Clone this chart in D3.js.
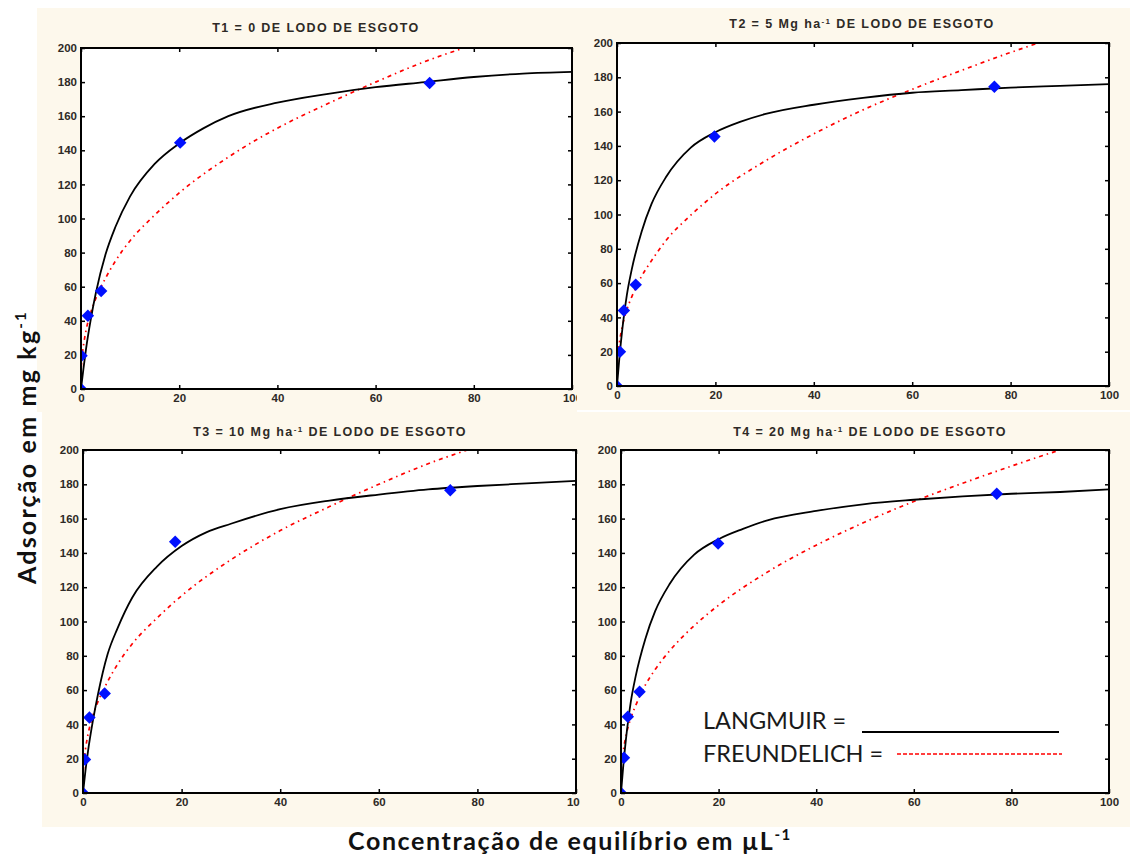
<!DOCTYPE html>
<html>
<head>
<meta charset="utf-8">
<script src="https://cdn.jsdelivr.net/npm/d3@7"></script>
<style>
  body { margin: 0; background: #fff; }
  .tick text { font-family: "Liberation Sans", Arial, sans-serif; font-weight: bold; font-size: 11.5px; fill: #2e2a26; }
  .tick line { stroke: #000; stroke-width: 1.5; }
  .title { font-family: "Liberation Sans", Arial, sans-serif; font-weight: bold; font-size: 12.5px; fill: #2e2a26; letter-spacing: 1.4px; }
</style>
</head>
<body>
<svg id="chart" width="1135" height="857"></svg>
<script>
// ticks
const xTicks = [0, 20, 40, 60, 80, 100];
const yTicks = [0, 20, 40, 60, 80, 100, 120, 140, 160, 180, 200];

const titles = ["T1 = 0 DE LODO DE ESGOTO", "T2 = 5 Mg ha", "T3 = 10 Mg ha", "T4 = 20 Mg ha"];

// observed points (concentration, adsorption)
const obsC1 = [0, 0.1, 1.4, 4.1, 20.2, 71];
const obsQ1 = [0, 19.5, 43, 57.5, 144.5, 179.5];
const obsC2 = [0, 0.6, 1.4, 3.8, 19.8, 76.7];
const obsQ2 = [0, 20, 44, 59, 145.5, 174.5];
const obsC3 = [0, 0.4, 1.3, 4.4, 18.7, 74.5];
const obsQ3 = [0, 19.5, 44, 58, 146.5, 176.5];
const obsC4 = [0, 0.6, 1.4, 3.8, 19.9, 77];
const obsQ4 = [0, 20.5, 44.5, 59, 145.5, 174.5];

// fitted curves
const langC = [0, 0.5, 1, 2, 3, 5, 7, 10, 15, 20, 25, 30, 40, 50, 60, 70, 80, 90, 100];
const langQ1 = [0, 12, 23, 41, 56, 79, 95, 113, 132, 144, 153, 160, 168, 173, 177, 180, 183, 185, 186];
const langQ2 = [0, 17, 31, 53, 68, 90, 106, 122, 139, 148, 154, 158.5, 164, 168, 171, 172.5, 174, 175, 176];
const langQ3 = [0, 13, 24, 42, 57, 81, 96, 114, 132, 144, 152, 157, 165.5, 170.5, 174, 177, 179, 180.5, 182];
const langQ4 = [0, 17, 31, 53, 68, 90, 106, 122, 139, 148, 154, 159, 164.5, 168.5, 171, 173, 174.5, 175.5, 177];

const freC = [0.05, 0.3, 0.5, 1, 2, 3, 5, 7, 10, 15, 20, 30, 40, 50, 60, 70, 80, 90, 100];
const freQ1 = [13, 21, 25.5, 34, 45, 53, 65, 75, 87, 102, 115, 136, 153, 167, 180, 192, 202, 212, 221];
const freQ2 = [13, 21, 25.5, 33.7, 44.5, 52, 64, 73, 85, 99.6, 112, 131, 147, 161, 173, 184, 194.5, 204, 212.6];
const freQ3 = [13, 21, 25.5, 34, 45, 53, 65, 75, 87, 102, 115, 136, 153, 167, 180, 192, 202, 212, 221];
const freQ4 = [13, 20.5, 25, 33, 43.6, 51, 63, 72, 83, 97.6, 109.5, 128.8, 144.5, 158, 170, 180.6, 190.6, 200, 208];

const panels = [
    {bg: [37, 8, 577, 412], plot: [81, 48, 572, 389], title: [316, 32], obsC: obsC1, obsQ: obsQ1, lang: langQ1, fre: freQ1},
    {bg: [577, 8, 1130, 410], plot: [617, 43, 1109, 386], title: [862, 28], obsC: obsC2, obsQ: obsQ2, lang: langQ2, fre: freQ2},
    {bg: [42, 412, 580, 827], plot: [83, 450, 576, 793], title: [330, 436], obsC: obsC3, obsQ: obsQ3, lang: langQ3, fre: freQ3},
    {bg: [580, 412, 1130, 827], plot: [621, 450, 1109, 793], title: [870, 436], obsC: obsC4, obsQ: obsQ4, lang: langQ4, fre: freQ4}
];

const svg = d3.select("#chart");
const defs = svg.append("defs");

panels.forEach(function(p, i) {
    let bx0 = p.bg[0], by0 = p.bg[1], bx1 = p.bg[2], by1 = p.bg[3];
    let px0 = p.plot[0], py0 = p.plot[1], px1 = p.plot[2], py1 = p.plot[3];

    defs.append("clipPath").attr("id", "bgclip" + i)
        .append("rect").attr("x", bx0).attr("y", by0).attr("width", bx1 - bx0).attr("height", by1 - by0);
    defs.append("clipPath").attr("id", "plotclip" + i)
        .append("rect").attr("x", px0).attr("y", py0).attr("width", px1 - px0).attr("height", py1 - py0);

    let g = svg.append("g").attr("clip-path", "url(#bgclip" + i + ")");

    g.append("rect")
        .attr("x", bx0).attr("y", by0)
        .attr("width", bx1 - bx0).attr("height", by1 - by0)
        .attr("fill", "#fdf8ec");

    g.append("rect")
        .attr("x", px0).attr("y", py0)
        .attr("width", px1 - px0).attr("height", py1 - py0)
        .attr("fill", "#fff");

    let x = d3.scaleLinear().domain([0, 100]).range([px0, px1]);
    let y = d3.scaleLinear().domain([0, 200]).range([py1, py0]);

    g.append("g").attr("transform", "translate(0," + py1 + ")")
        .call(d3.axisBottom(x).tickValues(xTicks).tickSize(-4).tickPadding(5))
        .call(function(a) { a.select(".domain").remove(); });
    g.append("g").attr("transform", "translate(0," + py0 + ")")
        .call(d3.axisTop(x).tickValues(xTicks).tickSize(-4).tickFormat(""))
        .call(function(a) { a.select(".domain").remove(); });
    g.append("g").attr("transform", "translate(" + px0 + ",0)")
        .call(d3.axisLeft(y).tickValues(yTicks).tickSize(-4).tickPadding(4))
        .call(function(a) { a.select(".domain").remove(); });
    g.append("g").attr("transform", "translate(" + px1 + ",0)")
        .call(d3.axisRight(y).tickValues(yTicks).tickSize(-4).tickFormat(""))
        .call(function(a) { a.select(".domain").remove(); });

    // curves
    let inner = g.append("g").attr("clip-path", "url(#plotclip" + i + ")");

    let langLine = d3.line()
        .x(function(d, k) { return x(langC[k]); })
        .y(function(d) { return y(d); })
        .curve(d3.curveMonotoneX);
    let freLine = d3.line()
        .x(function(d, k) { return x(freC[k]); })
        .y(function(d) { return y(d); })
        .curve(d3.curveMonotoneX);

    inner.append("path").datum(p.fre)
        .attr("d", freLine)
        .attr("fill", "none")
        .attr("stroke", "#ff0000")
        .attr("stroke-width", 1.7)
        .attr("stroke-dasharray", "4,4,1.5,4");

    inner.append("path").datum(p.lang)
        .attr("d", langLine)
        .attr("fill", "none")
        .attr("stroke", "#000")
        .attr("stroke-width", 1.8);

    inner.selectAll(".pt").data(p.obsC).enter()
        .append("path")
        .attr("class", "pt")
        .attr("d", d3.symbol().type(d3.symbolSquare).size(78))
        .attr("transform", function(d, k) {
            return "translate(" + x(d) + "," + y(p.obsQ[k]) + ") rotate(45)";
        })
        .attr("fill", "#0010ff");

    g.append("rect")
        .attr("x", px0).attr("y", py0)
        .attr("width", px1 - px0).attr("height", py1 - py0)
        .attr("fill", "none")
        .attr("stroke", "#000")
        .attr("stroke-width", 2);

    // title
    let t = g.append("text").attr("class", "title")
        .attr("x", p.title[0]).attr("y", p.title[1])
        .attr("text-anchor", "middle");
    if (i === 0) {
        t.text(titles[i]);
    } else {
        t.append("tspan").text(titles[i]);
        t.append("tspan").attr("font-size", "8px").attr("dy", -4).text("-1");
        t.append("tspan").attr("dy", 4).text(" DE LODO DE ESGOTO");
    }
});

// axis titles
let yl = svg.append("text")
    .attr("transform", "translate(36,447) rotate(-90)")
    .attr("text-anchor", "middle")
    .style("font-family", "Lato, 'Open Sans', sans-serif")
    .style("font-weight", "bold")
    .style("font-size", "25px")
    .style("letter-spacing", "2.2px")
    .attr("fill", "#111");
yl.append("tspan").text("Adsorção em mg kg");
yl.append("tspan").attr("font-size", "15px").attr("dy", -10).text("-1");

let xl = svg.append("text")
    .attr("x", 570).attr("y", 850)
    .attr("text-anchor", "middle")
    .style("font-family", "Lato, 'Open Sans', sans-serif")
    .style("font-weight", "bold")
    .style("font-size", "25px")
    .style("letter-spacing", "1.6px")
    .attr("fill", "#111");
xl.append("tspan").text("Concentração de equilíbrio em µL");
xl.append("tspan").attr("font-size", "15px").attr("dy", -10).text("-1");

// legend
const legendNames = ["LANGMUIR =", "FREUNDELICH ="];
let lg = svg.append("g")
    .style("font-family", "Lato, 'Open Sans', sans-serif")
    .style("font-size", "23.5px");
lg.append("text").attr("x", 703).attr("y", 729).attr("fill", "#1a1a1a").text(legendNames[0]);
lg.append("text").attr("x", 703).attr("y", 762).attr("fill", "#1a1a1a").text(legendNames[1]);
lg.append("line").attr("x1", 862).attr("x2", 1059).attr("y1", 732).attr("y2", 732)
    .attr("stroke", "#000").attr("stroke-width", 2.2);
lg.append("line").attr("x1", 897).attr("x2", 1062).attr("y1", 754).attr("y2", 754)
    .attr("stroke", "#ff0000").attr("stroke-width", 1.6).attr("stroke-dasharray", "4,2");
</script>
</body>
</html>
